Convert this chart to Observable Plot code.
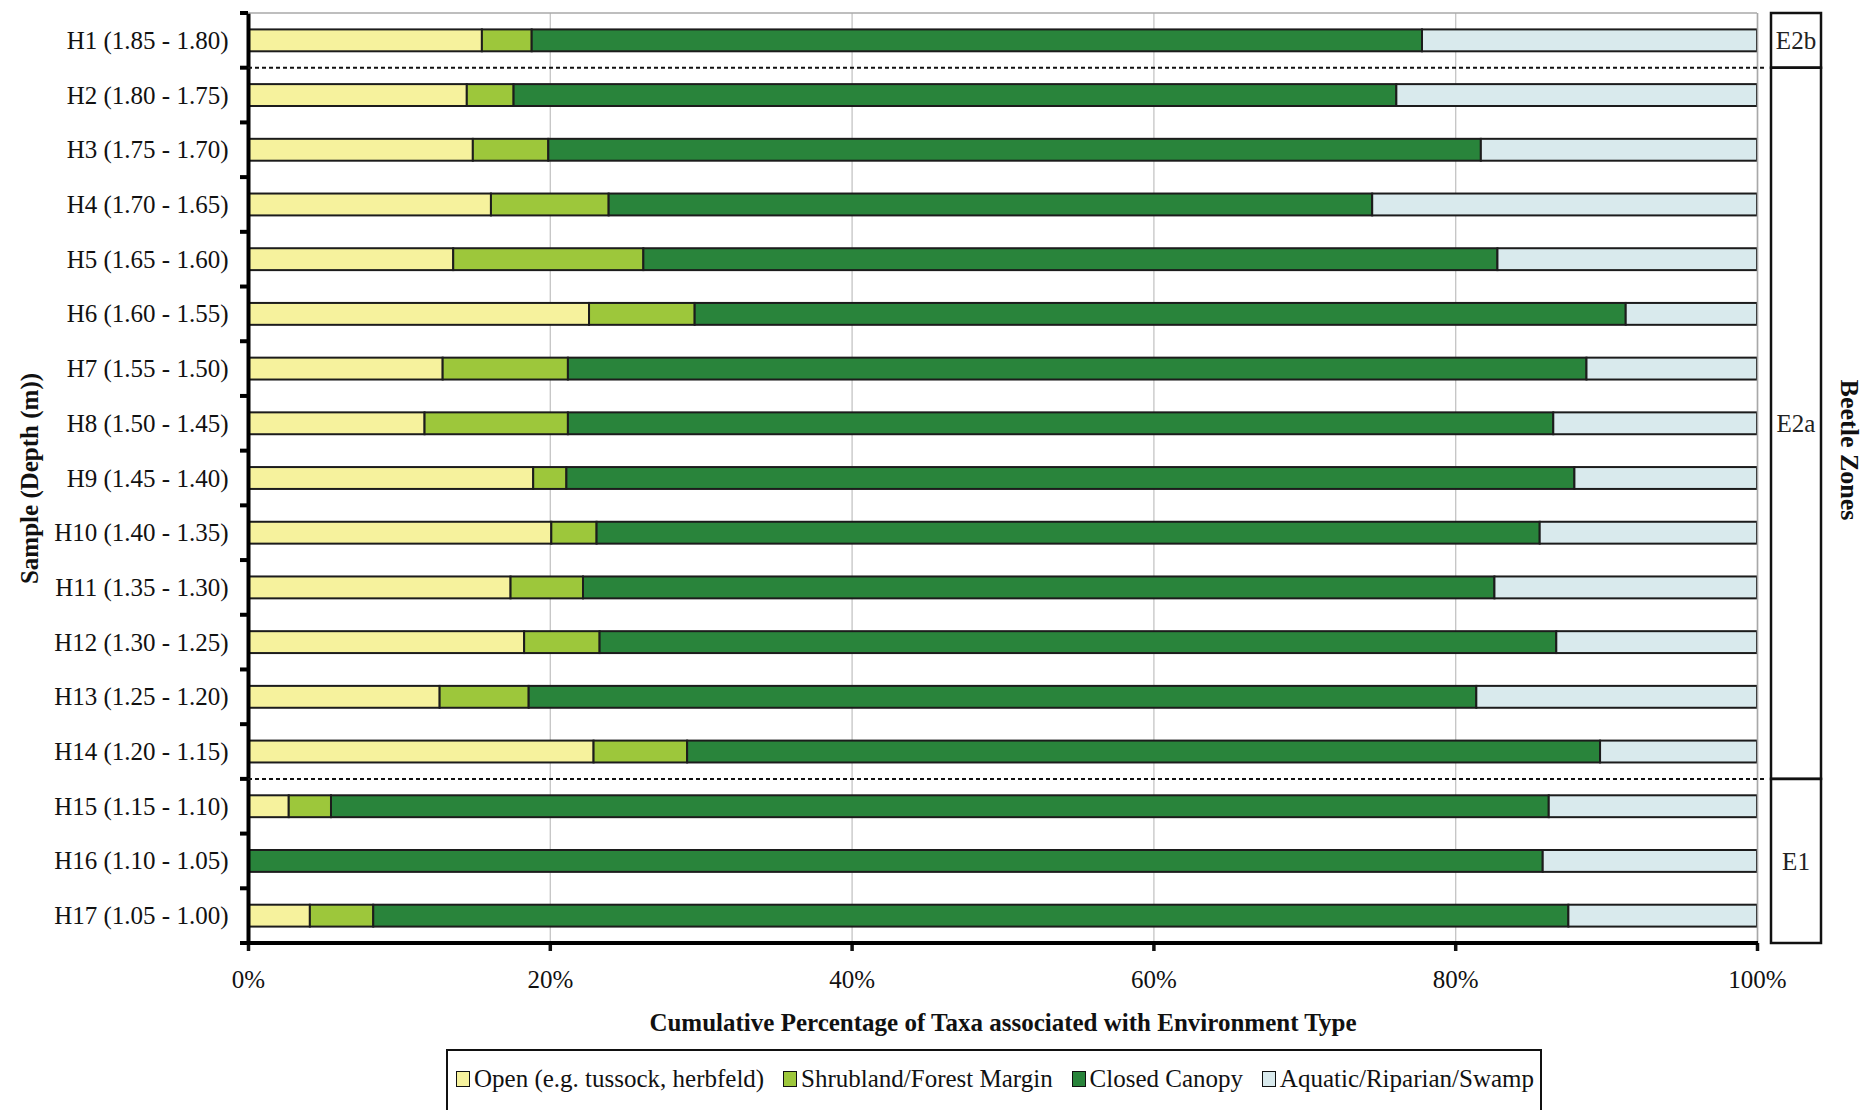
<!DOCTYPE html>
<html>
<head>
<meta charset="utf-8">
<script src="https://cdn.jsdelivr.net/npm/d3@7"></script>
<script src="https://cdn.jsdelivr.net/npm/@observablehq/plot@0.6"></script>
<style>
  body { margin: 0; background: #fff; font-family: "Liberation Serif", "Times New Roman", serif; color: #111; }
  #chart svg { display: block; }
  [aria-label="x-axis label"], [aria-label="y-axis label"] { font-weight: bold; }
  #legend {
    margin: 4px 0 0 446px; width: 1096px; height: 90px; box-sizing: border-box;
    border: 2px solid #111; display: flex; align-items: flex-start;
    padding: 13px 6px 0 8px; gap: 0; justify-content: space-between;
    font-size: 25px; line-height: 30px; white-space: nowrap;
  }
  #legend .item { display: flex; align-items: center; }
  #legend .sw { width: 14px; height: 16px; border: 1.5px solid #111; margin-right: 4px; box-sizing: border-box; }
</style>
</head>
<body>
<div id="chart"></div>
<div id="legend"></div>
<script>
// Samples, top (shallowest) to bottom
const samples = [
  "H1 (1.85 - 1.80)", "H2 (1.80 - 1.75)", "H3 (1.75 - 1.70)", "H4 (1.70 - 1.65)",
  "H5 (1.65 - 1.60)", "H6 (1.60 - 1.55)", "H7 (1.55 - 1.50)", "H8 (1.50 - 1.45)",
  "H9 (1.45 - 1.40)", "H10 (1.40 - 1.35)", "H11 (1.35 - 1.30)", "H12 (1.30 - 1.25)",
  "H13 (1.25 - 1.20)", "H14 (1.20 - 1.15)", "H15 (1.15 - 1.10)", "H16 (1.10 - 1.05)",
  "H17 (1.05 - 1.00)"
];

// Percentage of taxa per environment type, one value per sample
const openPct    = [15.5, 14.5, 14.9, 16.1, 13.6, 22.6, 12.9, 11.7, 18.9, 20.1, 17.4, 18.3, 12.7, 22.9,  2.7,  0.0,  4.1];
const shrubPct   = [ 3.3,  3.1,  5.0,  7.8, 12.6,  7.0,  8.3,  9.5,  2.2,  3.0,  4.8,  5.0,  5.9,  6.2,  2.8,  0.0,  4.2];
const closedPct  = [59.0, 58.5, 61.8, 50.6, 56.6, 61.7, 67.5, 65.3, 66.8, 62.5, 60.4, 63.4, 62.8, 60.5, 80.7, 85.8, 79.2];
const aquaticPct = [22.2, 23.9, 18.3, 25.5, 17.2,  8.7, 11.3, 13.5, 12.1, 14.4, 17.4, 13.3, 18.6, 10.4, 13.8, 14.2, 12.5];

const categories = ["Open (e.g. tussock, herbfeld)", "Shrubland/Forest Margin", "Closed Canopy", "Aquatic/Riparian/Swamp"];
const categoryColors = ["#f6f29d", "#9dc73b", "#29843b", "#d9eaed"];
const seriesValues = [openPct, shrubPct, closedPct, aquaticPct];

// Beetle zones, as first and last sample of each zone
const zoneNames = ["E2b", "E2a", "E1"];
const zoneFirst = ["H1 (1.85 - 1.80)", "H2 (1.80 - 1.75)", "H15 (1.15 - 1.10)"];
const zoneLast  = ["H1 (1.85 - 1.80)", "H14 (1.20 - 1.15)", "H17 (1.05 - 1.00)"];

const xTicks = [0, 20, 40, 60, 80, 100];
const xTitle = "Cumulative Percentage of Taxa associated with Environment Type";
const yTitle = "Sample (Depth (m))";
const zoneTitle = "Beetle Zones";

(function draw() {
  // long table for the stacked bars
  const rows = [];
  samples.forEach((s, i) => {
    categories.forEach((c, k) => {
      const v = seriesValues[k][i];
      if (v > 0) rows.push({sample: s, category: c, value: v});
    });
  });

  const plot = Plot.plot({
    width: 1871,
    height: 1045,
    marginLeft: 248,
    marginRight: 114,
    marginTop: 13,
    marginBottom: 102,
    style: {fontFamily: "'Liberation Serif', 'Times New Roman', serif", fontSize: "25px", color: "#111", background: "transparent"},
    x: {domain: [0, 100]},
    y: {domain: samples, paddingInner: 0.6, paddingOuter: 0.3, round: false},
    color: {domain: categories, range: categoryColors},
    marks: [
      Plot.gridX(xTicks.slice(1), {stroke: "#c4c4c4", strokeOpacity: 1, strokeWidth: 1.3}),
      Plot.barX(rows, Plot.stackX({x: "value", y: "sample", fill: "category", stroke: "#1c1c1c", strokeWidth: 2, order: categories})),
      Plot.axisX({ticks: xTicks, tickFormat: d => `${d}%`, tickSize: 8, tickPadding: 19, strokeWidth: 3.5,
        label: xTitle, labelAnchor: "center", labelArrow: "none", labelOffset: 87}),
      Plot.axisY({tickSize: 0, tickPadding: 20, label: yTitle, labelAnchor: "center", labelArrow: "none", labelOffset: 228}),
      Plot.ruleX([100], {stroke: "#a8a8a8", strokeWidth: 1.5}),
      Plot.ruleX([0], {stroke: "#000", strokeWidth: 4})
    ]
  });
  document.getElementById("chart").appendChild(plot);

  // frame lines, boundary ticks, zone dividers and zone boxes
  const xs = plot.scale("x");
  const ys = plot.scale("y");
  const svg = d3.select(plot);
  const x0 = xs.apply(0), x100 = xs.apply(100);
  const step = ys.step ?? (ys.apply(samples[1]) - ys.apply(samples[0]));
  const bw = ys.bandwidth;
  const rowTop = s => ys.apply(s) + bw / 2 - step / 2;
  const rowBottom = s => rowTop(s) + step;
  const plotTop = rowTop(samples[0]);
  const plotBottom = rowBottom(samples[samples.length - 1]);

  const g = svg.append("g");
  g.append("line").attr("x1", x0).attr("x2", x100).attr("y1", plotTop).attr("y2", plotTop)
    .attr("stroke", "#a8a8a8").attr("stroke-width", 1.5);
  g.append("line").attr("x1", x0 - 2).attr("x2", x100 + 1).attr("y1", plotBottom).attr("y2", plotBottom)
    .attr("stroke", "#000").attr("stroke-width", 4);
  g.selectAll("line.ytick").data([plotTop, ...samples.map(rowBottom)]).join("line")
    .attr("class", "ytick").attr("x1", x0 - 8).attr("x2", x0).attr("y1", d => d).attr("y2", d => d)
    .attr("stroke", "#000").attr("stroke-width", 4);

  const boxX1 = x100 + 14, boxX2 = x100 + 64;
  zoneNames.forEach((z, i) => {
    const y1 = rowTop(zoneFirst[i]), y2 = rowBottom(zoneLast[i]);
    if (i > 0) {
      g.append("line").attr("x1", x0).attr("x2", x100 + 10).attr("y1", y1).attr("y2", y1)
        .attr("stroke", "#111").attr("stroke-width", 2).attr("stroke-dasharray", "4,3");
    }
    g.append("rect").attr("x", boxX1).attr("y", y1).attr("width", boxX2 - boxX1).attr("height", y2 - y1)
      .attr("fill", "none").attr("stroke", "#111").attr("stroke-width", 2.5);
    g.append("text").attr("x", (boxX1 + boxX2) / 2).attr("y", (y1 + y2) / 2).attr("dy", "0.35em")
      .attr("text-anchor", "middle").attr("font-size", 25).attr("fill", "#222").text(z);
  });
  g.append("text")
    .attr("transform", `translate(${x100 + 93},${(plotTop + plotBottom) / 2 - 28}) rotate(90)`)
    .attr("text-anchor", "middle").attr("dy", "0.35em").attr("font-size", 26).attr("font-weight", "bold")
    .attr("fill", "#111").text(zoneTitle);

  // legend
  const legend = d3.select("#legend");
  categories.forEach((c, k) => {
    const it = legend.append("div").attr("class", "item");
    it.append("div").attr("class", "sw").style("background", categoryColors[k]);
    it.append("span").text(c);
  });
})();
</script>
</body>
</html>
